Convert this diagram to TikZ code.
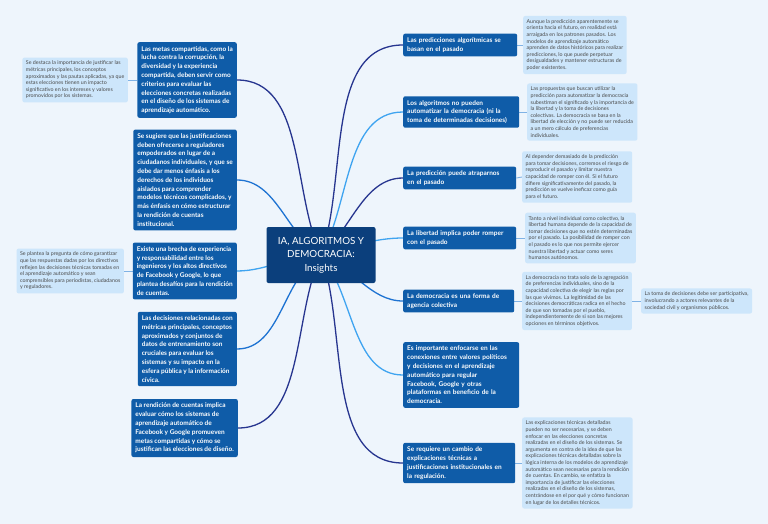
\documentclass[tikz,border=0pt]{standalone}
\usepackage{fontspec}
\setmainfont{Lato}
\usetikzlibrary{backgrounds}
\definecolor{pagebg}{HTML}{EEF5FC}
\definecolor{boxblue}{HTML}{0F5CA8}
\definecolor{hubblue}{HTML}{0B3F7C}
\definecolor{noteblue}{HTML}{CDE6FB}
\definecolor{notegray}{HTML}{4A4A4A}
\definecolor{navyline}{HTML}{27358F}
\definecolor{midline}{HTML}{1E73D2}
\definecolor{lightline}{HTML}{3FA4F0}
\definecolor{noteline}{HTML}{7FB2E5}

\begin{document}
\begin{tikzpicture}
            [x=1pt, y=-1pt,
             mainbox/.style={fill=boxblue, text=white, rounded corners=2pt, inner sep=4pt,
                             align=left, font=\fontsize{6.5}{8.8}\selectfont\bfseries},
             hubbox/.style={fill=hubblue, text=white, rounded corners=2pt, inner sep=6pt,
                            align=center, font=\fontsize{9.8}{13.5}\selectfont},
             notebox/.style={fill=noteblue, text=notegray, rounded corners=2pt, inner sep=3.5pt,
                             align=left, font=\fontsize{5.3}{6.6}\selectfont},
             link/.style={line width=1.3pt, looseness=0.9},
             notelink/.style={draw=noteline, line width=0.9pt}]
            \useasboundingbox (0,0) rectangle (768,524);

            % Central topic
            \node[hubbox, minimum width=109pt, minimum height=56pt] (hub) at (321,255)
                {IA, ALGORITMOS Y\\DEMOCRACIA:\\Insights};

            % Left branches
            \node[mainbox, anchor=east] (metas) at (237,80)
                {Las metas compartidas, como la\\lucha contra la corrupción, la\\diversidad y la experiencia\\compartida, deben servir como\\criterios para evaluar las\\elecciones concretas realizadas\\en el diseño de los sistemas de\\aprendizaje automático.};
            \node[mainbox, anchor=east] (justif) at (237,180)
                {Se sugiere que las justificaciones\\deben ofrecerse a reguladores\\empoderados en lugar de a\\ciudadanos individuales, y que se\\debe dar menos énfasis a los\\derechos de los individuos\\aislados para comprender\\modelos técnicos complicados, y\\más énfasis en cómo estructurar\\la rendición de cuentas\\institucional.};
            \node[mainbox, anchor=east] (brecha) at (237,271)
                {Existe una brecha de experiencia\\y responsabilidad entre los\\ingenieros y los altos directivos\\de Facebook y Google, lo que\\plantea desafíos para la rendición\\de cuentas.};
            \node[mainbox, anchor=east] (decis) at (237,349)
                {Las decisiones relacionadas con\\métricas principales, conceptos\\aproximados y conjuntos de\\datos de entrenamiento son\\cruciales para evaluar los\\sistemas y su impacto en la\\esfera pública y la información\\cívica.};
            \node[mainbox, anchor=east] (rendic) at (238,428)
                {La rendición de cuentas implica\\evaluar cómo los sistemas de\\aprendizaje automático de\\Facebook y Google promueven\\metas compartidas y cómo se\\justifican las elecciones de diseño.};

            % Left notes
            \node[notebox, anchor=east] (metasn) at (128,80)
                {Se destaca la importancia de justificar las\\métricas principales, los conceptos\\aproximados y las pautas aplicadas, ya que\\estas elecciones tienen un impacto\\significativo en los intereses y valores\\promovidos por los sistemas.};
            \node[notebox, anchor=east] (brechan) at (124,271)
                {Se plantea la pregunta de cómo garantizar\\que las respuestas dadas por los directivos\\reflejen las decisiones técnicas tomadas en\\el aprendizaje automático y sean\\comprensibles para periodistas, ciudadanos\\y reguladores.};

            % Right branches
            \node[mainbox, anchor=west, text width=106pt] (pred) at (403,45)
                {Las predicciones algorítmicas se\\basan en el pasado};
            \node[mainbox, anchor=west, text width=108pt] (autom) at (403,112)
                {Los algoritmos no pueden\\automatizar la democracia (ni la\\toma de determinadas decisiones)};
            \node[mainbox, anchor=west, text width=105pt] (atrap) at (403,178)
                {La predicción puede atraparnos\\en el pasado};
            \node[mainbox, anchor=west, text width=105pt] (libert) at (403,238)
                {La libertad implica poder romper\\con el pasado};
            \node[mainbox, anchor=west, text width=103pt] (agenc) at (403,301)
                {La democracia es una forma de\\agencia colectiva};
            \node[mainbox, anchor=west, text width=108pt] (conex) at (403,375)
                {Es importante enfocarse en las\\conexiones entre valores políticos\\y decisiones en el aprendizaje\\automático para regular\\Facebook, Google y otras\\plataformas en beneficio de la\\democracia.};
            \node[mainbox, anchor=west, text width=104pt] (cambio) at (403,463)
                {Se requiere un cambio de\\explicaciones técnicas a\\justificaciones institucionales en\\la regulación.};

            % Right notes
            \node[notebox, anchor=west] (predn) at (523,45)
                {Aunque la predicción aparentemente se\\orienta hacia el futuro, en realidad está\\arraigada en los patrones pasados. Los\\modelos de aprendizaje automático\\aprenden de datos históricos para realizar\\predicciones, lo que puede perpetuar\\desigualdades y mantener estructuras de\\poder existentes.};
            \node[notebox, anchor=west] (automn) at (527,112)
                {Las propuestas que buscan utilizar la\\predicción para automatizar la democracia\\subestiman el significado y la importancia de\\la libertad y la toma de decisiones\\colectivas. La democracia se basa en la\\libertad de elección y no puede ser reducida\\a un mero cálculo de preferencias\\individuales.};
            \node[notebox, anchor=west] (atrapn) at (522,177)
                {Al depender demasiado de la predicción\\para tomar decisiones, corremos el riesgo de\\reproducir el pasado y limitar nuestra\\capacidad de romper con él. Si el futuro\\difiere significativamente del pasado, la\\predicción se vuelve ineficaz como guía\\para el futuro.};
            \node[notebox, anchor=west] (libertn) at (525,238)
                {Tanto a nivel individual como colectivo, la\\libertad humana depende de la capacidad de\\tomar decisiones que no estén determinadas\\por el pasado. La posibilidad de romper con\\el pasado es lo que nos permite ejercer\\nuestra libertad y actuar como seres\\humanos autónomos.};
            \node[notebox, anchor=west] (agencn) at (522,301)
                {La democracia no trata solo de la agregación\\de preferencias individuales, sino de la\\capacidad colectiva de elegir las reglas por\\las que vivimos. La legitimidad de las\\decisiones democráticas radica en el hecho\\de que son tomadas por el pueblo,\\independientemente de si son las mejores\\opciones en términos objetivos.};
            \node[notebox, anchor=west] (agencnn) at (641,301)
                {La toma de decisiones debe ser participativa,\\involucrando a actores relevantes de la\\sociedad civil y organismos públicos.};
            \node[notebox, anchor=west] (cambion) at (522,463)
                {Las explicaciones técnicas detalladas\\pueden no ser necesarias, y se deben\\enfocar en las elecciones concretas\\realizadas en el diseño de los sistemas. Se\\argumenta en contra de la idea de que las\\explicaciones técnicas detalladas sobre la\\lógica interna de los modelos de aprendizaje\\automático sean necesarias para la rendición\\de cuentas. En cambio, se enfatiza la\\importancia de justificar las elecciones\\realizadas en el diseño de los sistemas,\\centrándose en el por qué y cómo funcionan\\en lugar de los detalles técnicos.};

            \begin{pgfonlayer}{background}
            % Page colour
            \fill[pagebg] (0,0) rectangle (768,524);

            % Hub to branches
            \draw[link, navyline] (hub.center) to[out=115, in=0] (metas.east);
            \draw[link, midline] (hub.center) to[out=150, in=0] (justif.east);
            \draw[link, lightline] (hub.center) to[out=180, in=0] (brecha.east);
            \draw[link, midline] (hub.center) to[out=210, in=0] (decis.east);
            \draw[link, navyline] (hub.center) to[out=245, in=0] (rendic.east);
            \draw[link, navyline] (hub.center) to[out=70, in=180] (pred.west);
            \draw[link, lightline] (hub.center) to[out=60, in=180] (autom.west);
            \draw[link, navyline] (hub.center) to[out=40, in=180] (atrap.west);
            \draw[link, lightline] (hub.center) to[out=15, in=180] (libert.west);
            \draw[link, midline] (hub.center) to[out=-20, in=180] (agenc.west);
            \draw[link, lightline] (hub.center) to[out=-50, in=180] (conex.west);
            \draw[link, navyline] (hub.center) to[out=-70, in=180] (cambio.west);

            % Branches to notes
            \draw[notelink] (metas.west) -- (metasn.east);
            \draw[notelink] (brecha.west) -- (brechan.east);
            \draw[notelink] (pred.east) -- (predn.west);
            \draw[notelink] (autom.east) -- (automn.west);
            \draw[notelink] (atrap.east) -- (atrapn.west);
            \draw[notelink] (libert.east) -- (libertn.west);
            \draw[notelink] (agenc.east) -- (agencn.west);
            \draw[notelink] (agencn.east) -- (agencnn.west);
            \draw[notelink] (cambio.east) -- (cambion.west);
            \end{pgfonlayer}
        \end{tikzpicture}
\end{document}
